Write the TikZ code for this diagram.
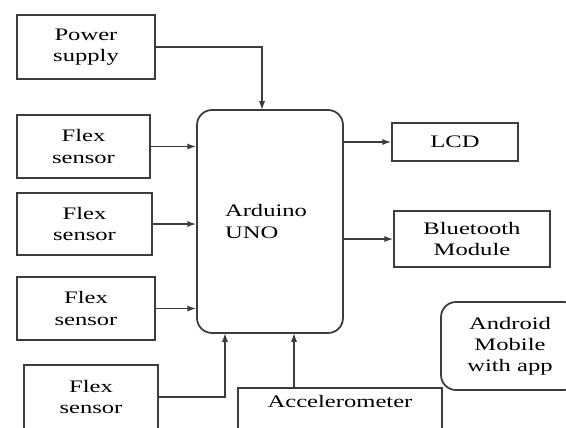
\documentclass[tikz,border=0pt]{standalone}
\usepackage{fontspec}
\setmainfont{Liberation Serif}[FakeStretch=1.4]
\usetikzlibrary{arrows.meta,positioning,calc}
\definecolor{lineGray}{RGB}{60,60,60}

\begin{document}
\begin{tikzpicture}[
    block/.style={draw=lineGray, line width=1pt, align=center, font=\fontsize{10}{12}\selectfont},
    arr/.style={draw=lineGray, line width=0.8pt, -{Latex[length=5pt,width=3.5pt]}}
  ]
    \useasboundingbox (0,0) rectangle (11.32,-8.54);
    % input blocks on the left
    \node[block, minimum width=2.76cm, minimum height=1.28cm] (ps) at (1.72,-0.94) {Power\\supply};
    \node[block, minimum width=2.66cm, minimum height=1.26cm] (f1) at (1.67,-2.93) {Flex\\sensor};
    \node[block, minimum width=2.70cm, minimum height=1.24cm] (f2) at (1.69,-4.48) {Flex\\sensor};
    \node[block, minimum width=2.76cm, minimum height=1.26cm] (f3) at (1.72,-6.17) {Flex\\sensor};
    \node[block, minimum width=2.68cm, minimum height=1.28cm] (f4) at (1.82,-7.94) {Flex\\sensor};
    % controller (text sits left of centre)
    \node[block, rounded corners=0.3cm, minimum width=2.92cm, minimum height=4.46cm,
          text width=1.8cm, align=left] (ard) at (5.40,-4.43) {Arduino\\UNO};
    % outputs
    \node[block, minimum width=2.52cm, minimum height=0.76cm] (lcd) at (9.10,-2.84) {LCD};
    \node[block, minimum width=3.12cm, minimum height=1.12cm] (bt) at (9.44,-4.78) {Bluetooth\\Module};
    \node[block, rounded corners=0.3cm, minimum width=2.76cm, minimum height=1.76cm] (app) at (10.20,-6.92) {Android\\Mobile\\with app};
    \node[block, anchor=north, minimum width=4.08cm, minimum height=1.0cm,
          text height=0.25cm, text depth=0.45cm] (acc) at (6.80,-7.74) {Accelerometer};
    % entry points on the controller
    \coordinate (ardtop) at (5.24,-2.20);
    \coordinate (ardbl) at (4.50,-6.66);
    \coordinate (ardbc) at (5.88,-6.66);
    % connectors
    \draw[arr] (ps.east) -| (ardtop);
    \draw[arr] (f1.east) -- (ard.west |- f1.east);
    \draw[arr] (f2.east) -- (ard.west |- f2.east);
    \draw[arr] (f3.east) -- (ard.west |- f3.east);
    \draw[arr] (f4.east) -| (ardbl);
    \draw[arr] (acc.north -| ardbc) -- (ardbc);
    \draw[arr] (ard.east |- lcd.west) -- (lcd.west);
    \draw[arr] (ard.east |- bt.west) -- (bt.west);
  \end{tikzpicture}
\end{document}
